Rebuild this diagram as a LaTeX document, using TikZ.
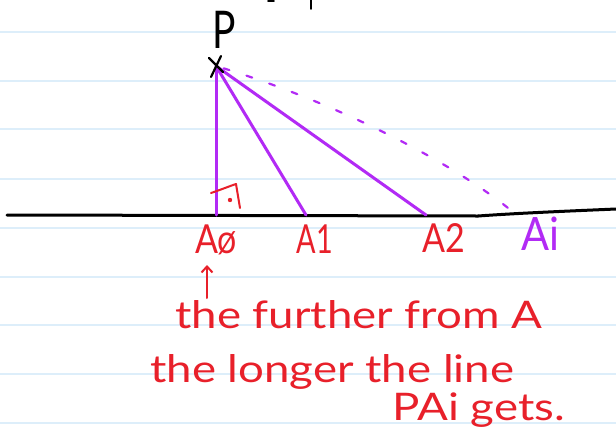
\documentclass[tikz,border=0pt]{standalone}
\usepackage{fontspec}
\setmainfont{Lato}
\usetikzlibrary{arrows.meta}
\definecolor{pen}{HTML}{E8202A}
\definecolor{violet}{HTML}{B22AF5}
\definecolor{rule}{HTML}{DDEEFA}
\tikzset{
  ruling/.style={draw=rule, line width=1.2pt},
  redink/.style={text=pen, inner sep=0pt},
  redline/.style={draw=pen, line width=2pt, line cap=round, line join=round},
  seg/.style={draw=violet, line width=3pt, line cap=round},
  ground/.style={draw=black, line width=3pt, line cap=round},
  handtext/.style={redink, font=\fontsize{38}{38}\selectfont, anchor=base west},
  lbl/.style={inner sep=0pt, font=\fontsize{40}{40}\selectfont}
}
\begin{document}
\begin{tikzpicture}[x=1pt,y=-1pt]
\useasboundingbox (0,0) rectangle (616,445);
\fill[white] (0,0) rectangle (616,445);
% ruled lines
\foreach \yy in {32,81,129,179,228,277,325,374,423}
  \draw[ruling] (0,\yy) -- (616,\yy);
% fragments at top edge
\draw[black, line width=1.6pt, line cap=round] (268,1) -- (274,1);
\draw[black, line width=1.6pt, line cap=round] (311,0) -- (311,9);
% points
\coordinate (P) at (216,66);
\coordinate (A0) at (216,215);
\coordinate (A1) at (306,215);
\coordinate (A2) at (426,215);
\coordinate (Ai) at (513,212);
\coordinate (G0) at (7,215);
\coordinate (G1) at (478,216);
\coordinate (G2) at (616,209);
% ground line
\draw[ground] (G0) -- (G1);
\draw[ground] (G1) .. controls (520,213) and (570,211) .. (G2);
% segments
\draw[seg] (P) -- (A0);
\draw[seg] (P) -- (A1);
\draw[seg] (P) -- (A2);
\draw[draw=violet, line width=2.2pt, line cap=round, dash pattern=on 6pt off 18pt, dash phase=-8pt]
  (P) .. controls (330,100) and (450,160) .. (Ai);
% P cross
\draw[black, line width=2.2pt, line cap=round] (209,58) -- (223,72);
\draw[black, line width=2.2pt, line cap=round] (221,56) -- (211,77);
\node[lbl, text=black, font=\fontsize{52}{52}\selectfont] (Plab) at (224,30) {\scalebox{0.75}[1]{P}};
% right angle mark
\draw[redline] (211,193) .. controls (220,190) and (230,186) .. (236,184) -- (240,208);
\fill[pen] (230,200) circle (2.2pt);
% labels
\node[lbl, text=pen] (L0) at (216,240) {\scalebox{0.85}[1]{Aø}};
\node[lbl, text=pen] (L1) at (315,239) {\scalebox{0.72}[1]{A1}};
\node[lbl, text=pen] (L2) at (444,238) {\scalebox{0.85}[1]{A2}};
\node[lbl, text=violet, font=\fontsize{46}{46}\selectfont] (Li) at (540,234) {\scalebox{0.9}[1]{Ai}};
% arrow
\coordinate (arrT) at (207,265);
\coordinate (arrB) at (207,298);
\draw[redline, -{Straight Barb[length=6pt,width=11pt]}] (arrB) -- (arrT);
% text
\node[handtext] (t1) at (175,328) {\scalebox{1.2}[1]{the further from A}};
\node[handtext] (t2) at (150,382) {\scalebox{1.2}[1]{the longer the line}};
\node[handtext] (t3) at (392,420) {\scalebox{1.2}[1]{PAi gets.}};
\end{tikzpicture}
\end{document}
